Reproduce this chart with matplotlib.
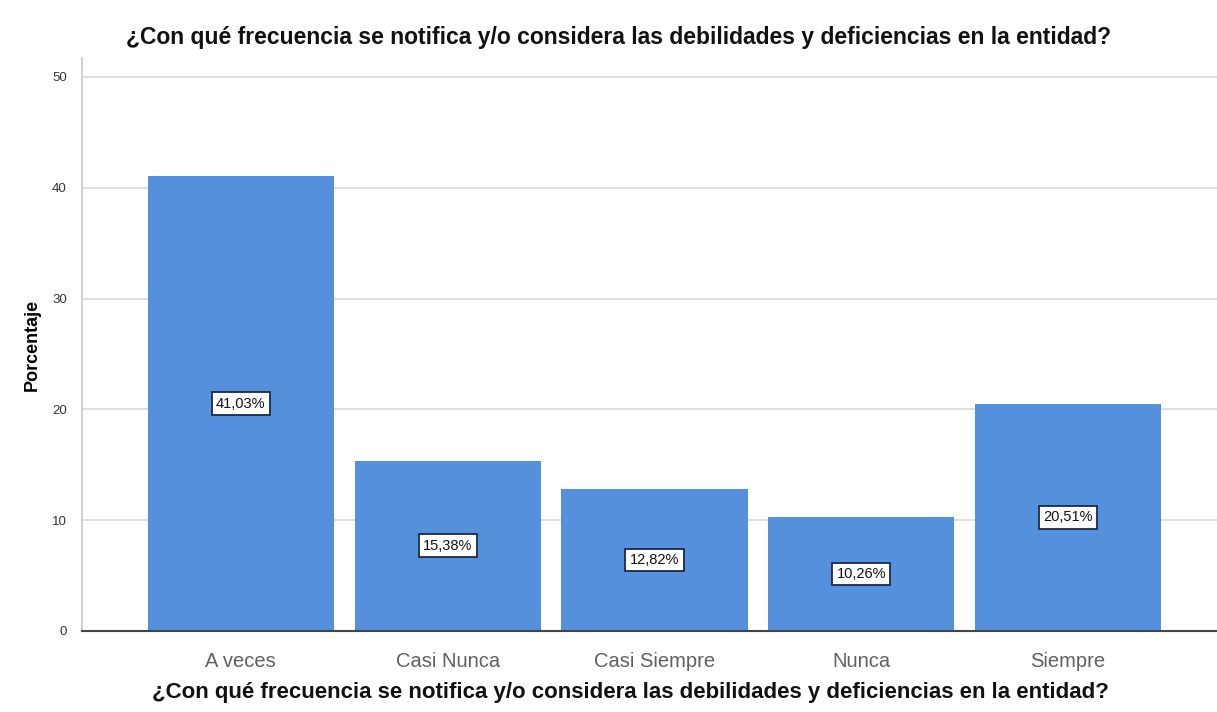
import matplotlib.pyplot as plt

plt.rcParams['font.family'] = ['Liberation Sans', 'DejaVu Sans']

categorias = ['A veces', 'Casi Nunca', 'Casi Siempre', 'Nunca', 'Siempre']
porcentajes = [41.03, 15.38, 12.82, 10.26, 20.51]
etiquetas = ['41,03%', '15,38%', '12,82%', '10,26%', '20,51%']
ticks_y = [0, 10, 20, 30, 40, 50]

pregunta = '¿Con qué frecuencia se notifica y/o considera las debilidades y deficiencias en la entidad?'

fig = plt.figure(figsize=(12.17, 7.12), dpi=100)
ax = fig.add_axes([0.0674, 0.1138, 0.9326, 0.8047])

x = range(len(categorias))
ax.bar(x, porcentajes, width=0.9, color='#5590DC', zorder=2)

# etiqueta de valor en el centro de cada barra
for i, (v, t) in enumerate(zip(porcentajes, etiquetas)):
    ax.text(i, v / 2, t, ha='center', va='center', fontsize=10.5, color='#111111', zorder=3,
            bbox=dict(boxstyle='square,pad=0.3', fc='white', ec='#1a2a4a', lw=1.3))

ax.set_xlim(-0.768, 4.72)
ax.set_ylim(0, 51.7)
ax.set_yticks(ticks_y)
ax.set_yticklabels([str(t) for t in ticks_y], fontsize=9.5, color='#333333')
ax.set_xticks(list(x))
ax.set_xticklabels(categorias, fontsize=14.5, color='#606060')
ax.tick_params(axis='both', length=0)
ax.tick_params(axis='x', pad=15)
ax.tick_params(axis='y', pad=11)

ax.yaxis.grid(True, color='#dadada', lw=1.2, zorder=0)
for s in ['top', 'right']:
    ax.spines[s].set_visible(False)
ax.spines['left'].set_color('#c8c8c8')
ax.spines['left'].set_linewidth(1.2)
ax.spines['bottom'].set_color('#444444')
ax.spines['bottom'].set_linewidth(1.5)

ax.set_ylabel('Porcentaje', fontsize=13, fontweight='bold', labelpad=8)

fig.text(0.508, 0.948, pregunta, ha='center', va='center', fontsize=16.5, fontweight='bold', color='#111111')
fig.text(0.518, 0.027, pregunta, ha='center', va='center', fontsize=16, fontweight='bold', color='#111111')

plt.savefig('out.png', dpi=100)
